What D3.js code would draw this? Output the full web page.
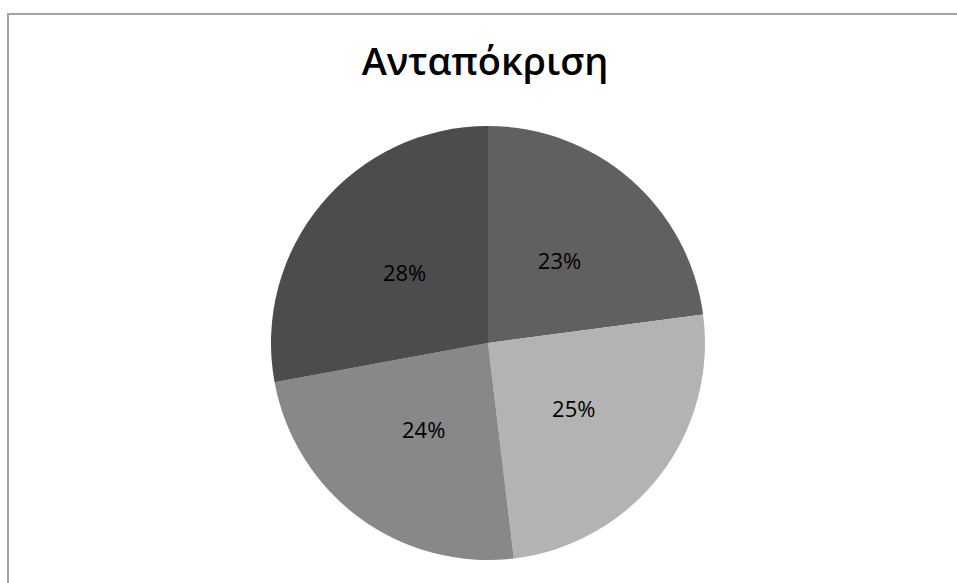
<!DOCTYPE html>
<html>
<head>
<meta charset="utf-8">
<script src="https://cdn.jsdelivr.net/npm/d3@7"></script>
<style>
  body { margin: 0; background: #fff; }
  svg { display: block; }
</style>
</head>
<body>
<svg id="chart"></svg>
<script>
const categories = ['A', 'B', 'C', 'D'];
const values = [22.9, 25.2, 24.0, 27.9];
const labels = ['23%', '25%', '24%', '28%'];
const colors = ['#606060', '#b3b3b3', '#888888', '#4c4c4c'];
const title = 'Ανταπόκριση';

const width = 957, height = 583;
const svg = d3.select('#chart').attr('width', width).attr('height', height);

// chart frame (runs off the right and bottom edges)
svg.append('rect')
  .attr('x', 8).attr('y', 14)
  .attr('width', 1000).attr('height', 700)
  .attr('fill', '#fff')
  .attr('stroke', '#a3a3a3')
  .attr('stroke-width', 2);

svg.append('text')
  .attr('x', 485).attr('y', 75)
  .attr('text-anchor', 'middle')
  .attr('font-family', 'Open Sans')
  .attr('font-weight', 600)
  .attr('font-size', 38)
  .attr('fill', '#000')
  .text(title);

const cx = 488, cy = 343, r = 217;
const data = categories.map((c, i) => ({ cat: c, value: values[i], label: labels[i] }));

const pie = d3.pie().sort(null).value(d => d.value);
const arc = d3.arc().innerRadius(0).outerRadius(r);
const labelArc = d3.arc().innerRadius(r * 0.5).outerRadius(r * 0.5);

const g = svg.append('g').attr('transform', `translate(${cx},${cy})`);

const arcs = pie(data);

g.selectAll('path')
  .data(arcs)
  .enter().append('path')
  .attr('d', arc)
  .attr('fill', (d, i) => colors[i]);

g.selectAll('text')
  .data(arcs)
  .enter().append('text')
  .attr('transform', d => `translate(${labelArc.centroid(d)})`)
  .attr('text-anchor', 'middle')
  .attr('dy', '0.35em')
  .attr('font-family', 'Open Sans')
  .attr('font-size', 22)
  .attr('fill', '#000')
  .text(d => d.data.label);
</script>
</body>
</html>
